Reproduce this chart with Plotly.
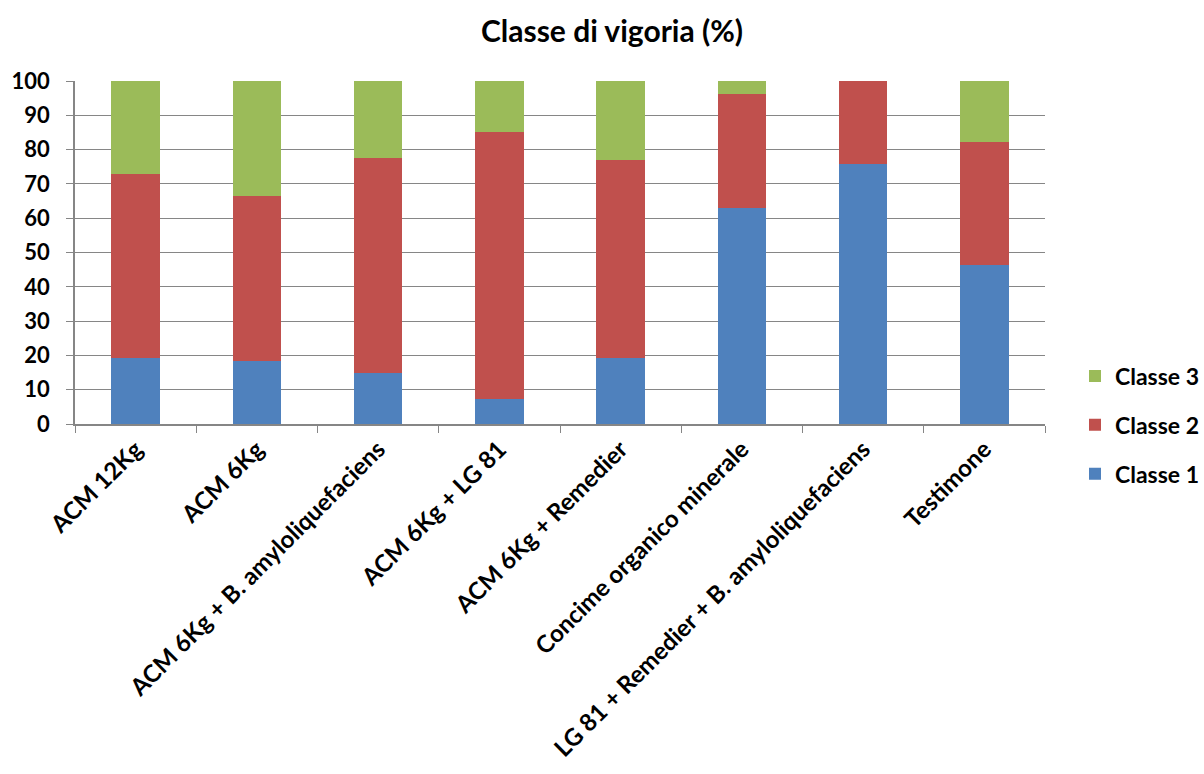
import plotly.graph_objects as go

# Treatments and percentage share of each vigour class
categories = [
    "ACM 12Kg",
    "ACM 6Kg",
    "ACM 6Kg + B. amyloliquefaciens",
    "ACM 6Kg + LG 81",
    "ACM 6Kg + Remedier",
    "Concime organico minerale",
    "LG 81 + Remedier + B. amyloliquefaciens",
    "Testimone",
]
classe_1 = [19.2, 18.4, 14.8, 7.2, 19.3, 63.0, 75.9, 46.3]
classe_2 = [53.8, 48.1, 62.8, 77.9, 57.6, 33.2, 24.1, 35.8]
classe_3 = [27.0, 33.5, 22.4, 14.9, 23.1, 3.8, 0.0, 17.9]

# (name, values, colour, legend rank) - legend lists the top class first
series = [
    ("Classe 1", classe_1, "#4F81BD", 3),
    ("Classe 2", classe_2, "#C0504D", 2),
    ("Classe 3", classe_3, "#9BBB59", 1),
]

FONT = "Lato, Carlito, Calibri, sans-serif"
GRID = "#868686"
W, H = 1204, 774

fig = go.Figure()
for name, values, color, rank in series:
    fig.add_trace(go.Bar(
        x=categories,
        y=values,
        name=name,
        legendgroup=name,
        legendrank=rank,
        marker=dict(color=color, line=dict(width=0)),
    ))

fig.update_layout(
    barmode="stack",
    bargap=0.6,
    width=W,
    height=H,
    margin=dict(l=75, r=159, t=81, b=350, autoexpand=False),
    paper_bgcolor="white",
    plot_bgcolor="white",
    font=dict(family=FONT, color="black"),
    title=dict(
        text="<b>Classe di vigoria (%)</b>",
        x=612 / W, xref="container", xanchor="center",
        y=1 - 31 / H, yanchor="middle",
        font=dict(size=30, family=FONT, color="black"),
    ),
    legend=dict(
        traceorder="grouped",
        tracegroupgap=16,
        xref="container", x=1075 / W, xanchor="left",
        yref="container", y=1 - 425 / H, yanchor="middle",
        font=dict(size=23, family=FONT, color="black", weight="bold"),
        bgcolor="rgba(0,0,0,0)",
    ),
    showlegend=True,
)

fig.update_xaxes(
    type="category",
    tickangle=-45,
    tickson="boundaries",
    ticks="outside",
    ticklen=7,
    tickcolor=GRID,
    showline=True,
    linecolor=GRID,
    linewidth=1.5,
    showgrid=False,
    automargin=False,
    tickfont=dict(size=24, family=FONT, color="black", weight="bold"),
)

fig.update_yaxes(
    range=[0, 100],
    dtick=10,
    ticks="outside",
    ticklen=7,
    tickcolor=GRID,
    showline=True,
    linecolor=GRID,
    linewidth=1.5,
    showgrid=True,
    gridcolor=GRID,
    gridwidth=1.2,
    zeroline=False,
    automargin=False,
    ticklabelstandoff=12,
    tickfont=dict(size=22, family=FONT, color="black", weight="bold"),
)

fig.write_html("out.html")
